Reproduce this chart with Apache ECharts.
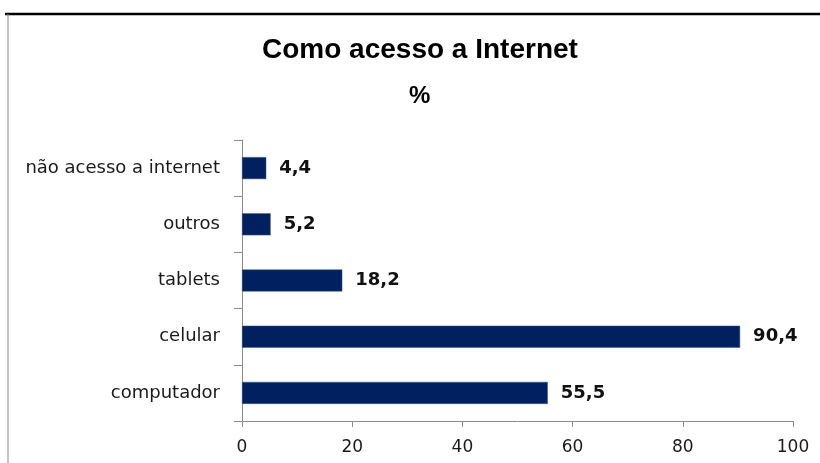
<!DOCTYPE html>
<html>
<head>
<meta charset="utf-8">
<script src="https://cdn.jsdelivr.net/npm/echarts@6/dist/echarts.min.js"></script>
<style>
html,body{margin:0;padding:0;background:#fff;}
#chart{width:820px;height:463px;}
</style>
</head>
<body>
<div id="chart"></div>
<script>
var categories = ['computador', 'celular', 'tablets', 'outros', 'não acesso a internet'];
var values = [55.5, 90.4, 18.2, 5.2, 4.4];
var xTicks = [0, 20, 40, 60, 80, 100];
var titleText = 'Como acesso a Internet';
var subtitleText = '%';

var chart = echarts.init(document.getElementById('chart'));
chart.setOption({
  animation: false,
  backgroundColor: '#ffffff',
  title: [
    {
      text: titleText,
      left: 262,
      top: 36,
      padding: 0,
      textStyle: {fontFamily: 'Liberation Sans', fontWeight: 'bold', fontSize: 28, color: '#000'}
    },
    {
      text: subtitleText,
      left: 409,
      top: 84,
      padding: 0,
      textStyle: {fontFamily: 'Liberation Sans', fontWeight: 'bold', fontSize: 24, color: '#000'}
    }
  ],
  graphic: [
    {type: 'line', shape: {x1: 5, y1: 14, x2: 820, y2: 14}, style: {stroke: '#000', lineWidth: 2.5}},
    {type: 'line', shape: {x1: 8, y1: 14, x2: 8, y2: 463}, style: {stroke: '#8c8c8c', lineWidth: 1}}
  ],
  grid: {left: 242, right: 27, top: 140, bottom: 42, containLabel: false},
  xAxis: {
    type: 'value',
    min: xTicks[0],
    max: xTicks[xTicks.length - 1],
    interval: 20,
    axisLine: {show: true, lineStyle: {color: '#8c8c8c', width: 1}},
    axisTick: {show: true, length: 6, lineStyle: {color: '#8c8c8c'}},
    splitLine: {show: false},
    axisLabel: {fontFamily: 'DejaVu Sans', fontSize: 17, color: '#1a1a1a', margin: 18}
  },
  yAxis: {
    type: 'category',
    data: categories,
    axisLine: {show: true, lineStyle: {color: '#8c8c8c', width: 1}},
    axisTick: {show: true, length: 8, lineStyle: {color: '#8c8c8c'}},
    axisLabel: {fontFamily: 'DejaVu Sans', fontSize: 18, color: '#1a1a1a', margin: 22}
  },
  series: [{
    type: 'bar',
    data: values,
    barWidth: 22,
    itemStyle: {color: '#002060', borderColor: '#3b5a8c', borderWidth: 0.5},
    label: {
      show: true,
      position: 'right',
      distance: 13,
      fontFamily: 'DejaVu Sans',
      fontWeight: 'bold',
      fontSize: 18,
      color: '#111',
      formatter: function (p) { return String(p.value).replace('.', ','); }
    }
  }]
});
</script>
</body>
</html>
